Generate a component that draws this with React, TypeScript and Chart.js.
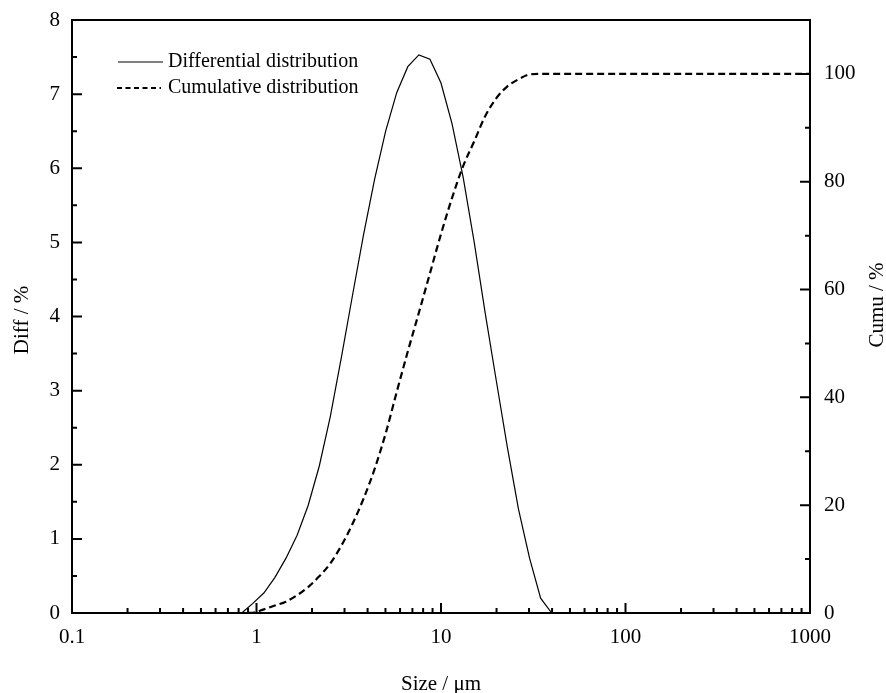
import React, { useEffect, useRef } from "react";
import { Chart, registerables } from "chart.js";

Chart.register(...registerables);

const sizes = [0.1, 0.832, 0.955, 1.096, 1.259, 1.445, 1.66, 1.905, 2.188, 2.512, 2.884, 3.311, 3.802, 4.365, 5.012, 5.754, 6.607, 7.586, 8.71, 10.0, 11.48, 13.18, 15.14, 17.38, 19.95, 22.91, 26.3, 30.2, 34.67, 39.81, 1000];
const diffValues = [0, 0, 0.13, 0.27, 0.48, 0.74, 1.05, 1.45, 1.98, 2.65, 3.45, 4.28, 5.1, 5.85, 6.5, 7.02, 7.37, 7.53, 7.47, 7.15, 6.6, 5.88, 5.0, 4.04, 3.13, 2.23, 1.4, 0.74, 0.2, 0, 0];
const cumuValues = [0, 0, 0.05, 0.68, 1.4, 2.1, 3.3, 4.8, 6.8, 9.2, 12.5, 16.5, 21.2, 26.7, 33.3, 41.0, 48.5, 55.7, 63.0, 70.3, 77.0, 82.9, 87.5, 92.2, 95.5, 97.7, 99.0, 99.9, 100, 100, 100];

const xTickValues = [0.1, 1, 10, 100, 1000];
const leftTickValues = [0, 1, 2, 3, 4, 5, 6, 7, 8];
const rightTickValues = [0, 20, 40, 60, 80, 100];

const FONT = '"Liberation Serif", "Times New Roman", serif';

const framePlugin = {
  id: "frame",
  afterDraw(chart: any) {
    const ctx = chart.ctx;
    const { left, right, top, bottom } = chart.chartArea;
    const x = chart.scales.x;
    const y = chart.scales.y;
    const y1 = chart.scales.y1;
    ctx.save();
    ctx.strokeStyle = "#000";
    ctx.fillStyle = "#000";
    ctx.lineWidth = 2;
    ctx.setLineDash([]);
    ctx.strokeRect(left, top, right - left, bottom - top);

    ctx.beginPath();
    for (const d of [0.1, 1, 10, 100]) {
      for (let m = 1; m <= 9; m++) {
        const px = x.getPixelForValue(d * m);
        const len = m === 1 ? 10 : 5;
        ctx.moveTo(px, bottom);
        ctx.lineTo(px, bottom - len);
      }
    }
    const p1000 = x.getPixelForValue(1000);
    ctx.moveTo(p1000, bottom);
    ctx.lineTo(p1000, bottom - 10);
    for (let v = 0; v <= 8; v += 0.5) {
      const py = y.getPixelForValue(v);
      const len = Number.isInteger(v) ? 10 : 5;
      ctx.moveTo(left, py);
      ctx.lineTo(left + len, py);
    }
    for (let v = 0; v <= 100; v += 10) {
      const py = y1.getPixelForValue(v);
      const len = v % 20 === 0 ? 10 : 5;
      ctx.moveTo(right, py);
      ctx.lineTo(right - len, py);
    }
    ctx.stroke();

    // legend
    ctx.font = `20px ${FONT}`;
    ctx.textBaseline = "middle";
    ctx.textAlign = "left";
    ctx.lineWidth = 1.2;
    ctx.beginPath();
    ctx.moveTo(118, 62);
    ctx.lineTo(163, 62);
    ctx.stroke();
    ctx.fillText("Differential distribution", 168, 62);
    ctx.lineWidth = 2;
    ctx.setLineDash([5, 3.5]);
    ctx.beginPath();
    ctx.moveTo(117, 88);
    ctx.lineTo(161, 88);
    ctx.stroke();
    ctx.setLineDash([]);
    ctx.fillText("Cumulative distribution", 168, 88);

    // axis titles
    ctx.font = `21px ${FONT}`;
    ctx.textAlign = "center";
    ctx.fillText("Size / \u03bcm", (left + right) / 2, 684);
    ctx.save();
    ctx.translate(22, 320);
    ctx.rotate(-Math.PI / 2);
    ctx.fillText("Diff / %", 0, 0);
    ctx.restore();
    ctx.save();
    ctx.translate(877, 305);
    ctx.rotate(-Math.PI / 2);
    ctx.fillText("Cumu / %", 0, 0);
    ctx.restore();
    ctx.restore();
  },
};

function zeroPad(scale: any) {
  scale.paddingTop = 0;
  scale.paddingBottom = 0;
  scale.paddingLeft = 0;
  scale.paddingRight = 0;
}

export default function App() {
  const canvasRef = useRef<HTMLCanvasElement | null>(null);

  useEffect(() => {
    const canvas = canvasRef.current;
    if (!canvas) return;
    const diffData = sizes.map((s, i) => ({ x: s, y: diffValues[i] }));
    const cumuData = sizes.map((s, i) => ({ x: s, y: cumuValues[i] }));
    const tickFont = { family: FONT, size: 21 };
    const chart = new Chart(canvas, {
      type: "line",
      data: {
        datasets: [
          {
            label: "Differential distribution",
            data: diffData,
            yAxisID: "y",
            borderColor: "#000",
            borderWidth: 1.2,
            pointRadius: 0,
            tension: 0,
            fill: false,
          },
          {
            label: "Cumulative distribution",
            data: cumuData,
            yAxisID: "y1",
            borderColor: "#000",
            borderWidth: 2.2,
            borderDash: [7, 4],
            pointRadius: 0,
            cubicInterpolationMode: "monotone",
            fill: false,
          },
        ],
      },
      options: {
        responsive: false,
        animation: false,
        events: [],
        layout: { padding: { top: 20, left: 0, right: 0, bottom: 0 } },
        plugins: { legend: { display: false }, tooltip: { enabled: false } },
        scales: {
          x: {
            type: "logarithmic",
            min: 0.1,
            max: 1000,
            grid: { display: false, drawTicks: false },
            border: { display: false },
            ticks: {
              autoSkip: false,
              maxRotation: 0,
              padding: 12,
              color: "#000",
              font: tickFont,
              callback: (v: any) => String(v),
            },
            afterBuildTicks: (scale: any) => {
              scale.ticks = xTickValues.map((v) => ({ value: v }));
            },
            afterFit: (scale: any) => {
              scale.height = 80;
              zeroPad(scale);
            },
          },
          y: {
            type: "linear",
            position: "left",
            min: 0,
            max: 8,
            grid: { display: false, drawTicks: false },
            border: { display: false },
            ticks: { padding: 12, color: "#000", font: tickFont },
            afterBuildTicks: (scale: any) => {
              scale.ticks = leftTickValues.map((v) => ({ value: v }));
            },
            afterFit: (scale: any) => {
              scale.width = 72;
              zeroPad(scale);
            },
          },
          y1: {
            type: "linear",
            position: "right",
            min: 0,
            max: 110,
            grid: { display: false, drawTicks: false },
            border: { display: false },
            ticks: { padding: 14, color: "#000", font: tickFont },
            afterBuildTicks: (scale: any) => {
              scale.ticks = rightTickValues.map((v) => ({ value: v }));
            },
            afterFit: (scale: any) => {
              scale.width = 76;
              zeroPad(scale);
            },
          },
        },
      } as any,
      plugins: [framePlugin],
    });
    return () => chart.destroy();
  }, []);

  return (
    <div style={{ position: "fixed", left: 0, top: 0, width: 886, height: 693, background: "#fff" }}>
      <canvas ref={canvasRef} width={886} height={693} style={{ display: "block" }} />
    </div>
  );
}
